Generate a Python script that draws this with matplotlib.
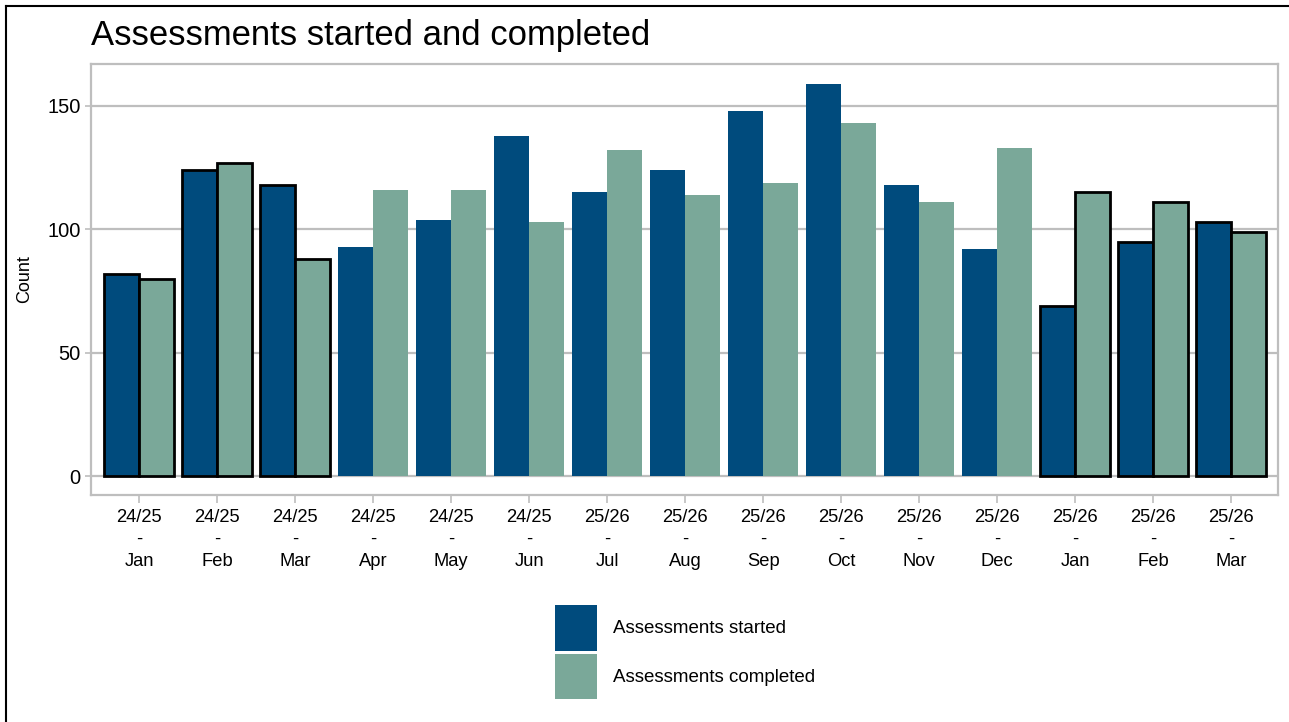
import matplotlib
matplotlib.use("Agg")
import matplotlib.pyplot as plt
from matplotlib.patches import Patch
from matplotlib.lines import Line2D
import numpy as np

plt.rcParams['font.family'] = ['Liberation Sans', 'DejaVu Sans']

# data
years = ["24/25", "24/25", "24/25", "24/25", "24/25", "24/25",
         "25/26", "25/26", "25/26", "25/26", "25/26", "25/26",
         "25/26", "25/26", "25/26"]
months = ["Jan", "Feb", "Mar", "Apr", "May", "Jun", "Jul", "Aug",
          "Sep", "Oct", "Nov", "Dec", "Jan", "Feb", "Mar"]
started = [82, 124, 118, 93, 104, 138, 115, 124, 148, 159, 118, 92, 69, 95, 103]
completed = [80, 127, 88, 116, 116, 103, 132, 114, 119, 143, 111, 133, 115, 111, 99]
highlight = [True, True, True, False, False, False, False, False,
             False, False, False, False, True, True, True]

c_started = "#004B7D"
c_completed = "#7AA899"
grid_col = "#BEBEBE"

W, H = 1289, 722
fig = plt.figure(figsize=(W / 100, H / 100), dpi=100)
ax = fig.add_axes([91 / W, 1 - 495 / H, (1278 - 91) / W, (495 - 64) / H])

x = np.arange(len(months))
bw = 0.45
for i in x:
    ec = "black" if highlight[i] else "none"
    lw = 2.0 if highlight[i] else 0
    ax.bar(i - bw / 2, started[i], width=bw, color=c_started, edgecolor=ec, linewidth=lw, zorder=3)
    ax.bar(i + bw / 2, completed[i], width=bw, color=c_completed, edgecolor=ec, linewidth=lw, zorder=3)

ax.set_xlim(-0.62, 14.6)
ax.set_ylim(-7.5, 167)
ax.set_yticks([0, 50, 100, 150])
ax.set_xticks(x)
ax.set_xticklabels([f"{y}\n-\n{m}" for y, m in zip(years, months)], fontsize=13.2, linespacing=1.37)
ax.tick_params(axis="y", labelsize=14.5, color=grid_col, length=4, width=1.2)
ax.tick_params(axis="x", color=grid_col, length=6, width=1.2, pad=4)
ax.grid(axis="y", color=grid_col, linewidth=1.6, zorder=0)
for s in ax.spines.values():
    s.set_color(grid_col)
    s.set_linewidth(1.6)
ax.set_ylabel("Count", fontsize=13, labelpad=10)

fig.text(91 / W, 1 - 45 / H, "Assessments started and completed", fontsize=24.9, ha="left", va="baseline")

handles = [Patch(facecolor=c_started, edgecolor="none"),
           Patch(facecolor=c_completed, edgecolor="none")]
fig.legend(handles, ["Assessments started", "Assessments completed"],
           loc="center", bbox_to_anchor=(685 / W, 1 - 652 / H), frameon=False,
           fontsize=13.5, handlelength=2.24, handleheight=3.35, labelspacing=0.16,
           handletextpad=0.85, borderpad=0)

# outer frame lines (top and left)
fig.add_artist(Line2D([6 / W, 1], [1 - 6 / H, 1 - 6 / H], color="black", linewidth=1.5, transform=fig.transFigure))
fig.add_artist(Line2D([6 / W, 6 / W], [0, 1 - 6 / H], color="black", linewidth=1.5, transform=fig.transFigure))

fig.savefig("out.png", dpi=100)
